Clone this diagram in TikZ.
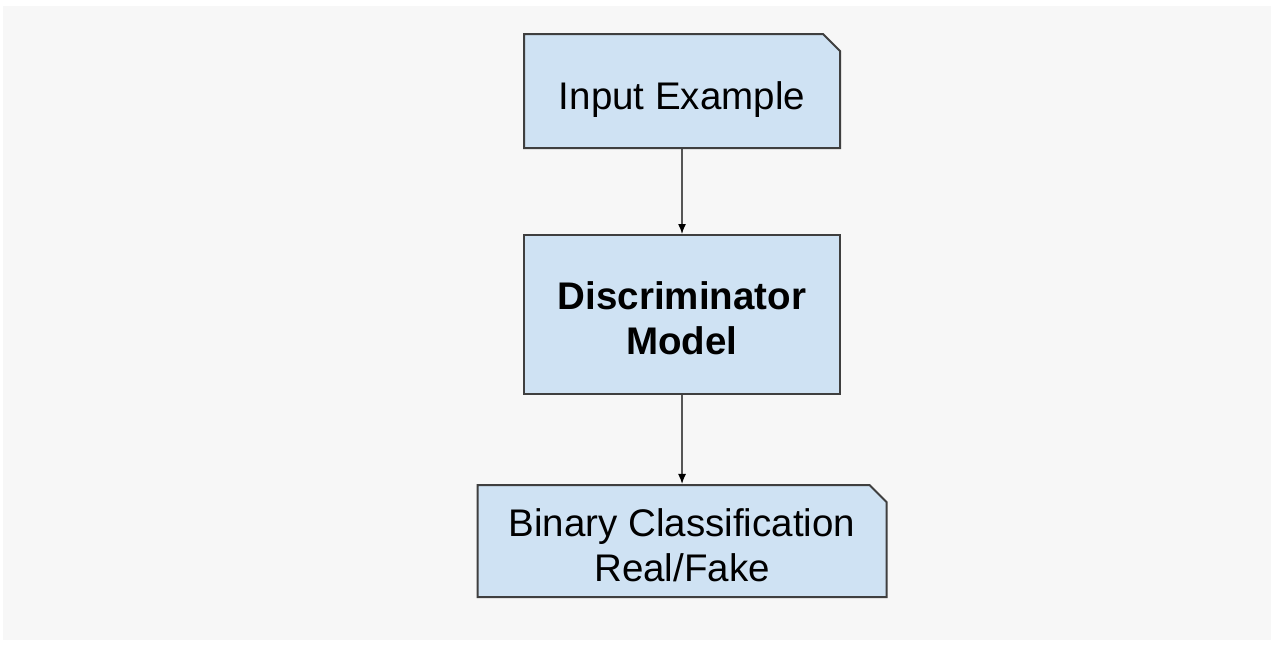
\documentclass[tikz,border=0pt]{standalone}
\usepackage{fontspec}
\setmainfont{Liberation Sans}
\usetikzlibrary{positioning, shapes.misc, arrows.meta}
\definecolor{boxblue}{HTML}{CFE2F3}
\definecolor{boxline}{HTML}{3F3F3F}
\definecolor{pagegray}{HTML}{F7F7F7}
\tikzset{
block/.style={draw=boxline, line width=2pt, fill=boxblue, align=center, text=black, font=\fontsize{38.5}{45}\selectfont}, % the blue boxes
card/.style={block, chamfered rectangle, chamfered rectangle corners=north east, chamfered rectangle xsep=8.5pt, chamfered rectangle ysep=8.5pt}, % box with the clipped corner
flow/.style={draw=black, line width=1.4pt, -{Latex[length=10pt,width=8pt]}}, % arrows between the boxes
}

\begin{document}
\begin{tikzpicture}
    \useasboundingbox (0pt,0pt) rectangle (1275pt,-646pt);
    \fill[pagegray] (3pt,-6pt) rectangle (1271pt,-640pt);
    \node[card, minimum width=316pt, minimum height=114pt, text height=44pt, text depth=8pt] (input) at (682pt,-91pt) {Input Example};
    \node[block, rectangle, minimum width=316pt, minimum height=159pt, text height=80pt, below=85pt of input] (disc) {\textbf{Discriminator}\\\textbf{Model}};
    \node[card, minimum width=409pt, minimum height=112pt, text height=82pt, below=89pt of disc] (out) {Binary Classification\\Real/Fake};
    \draw[flow] (input) -- (disc);
    \draw[flow] (disc) -- (out);
\end{tikzpicture}
\end{document}
